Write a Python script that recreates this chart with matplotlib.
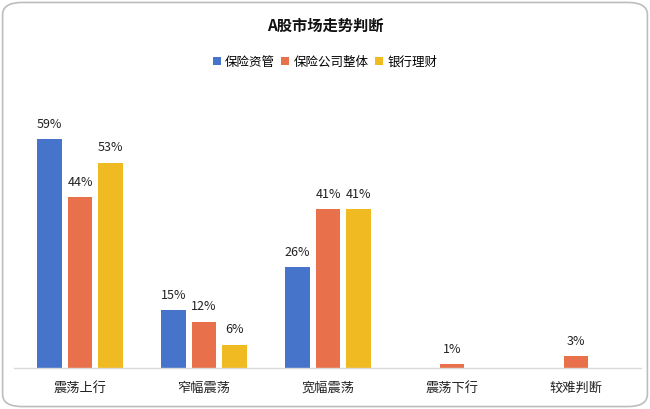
import numpy as np
import matplotlib
matplotlib.use("Agg")
import matplotlib.pyplot as plt
from matplotlib.patches import FancyBboxPatch

plt.rcParams['font.family'] = ['Noto Sans CJK SC', 'DejaVu Sans']

categories = ['震荡上行', '窄幅震荡', '宽幅震荡', '震荡下行', '较难判断']
series_names = ['保险资管', '保险公司整体', '银行理财']
insurance_am = [59, 15, 26, 0, 0]
insurance_all = [44, 12, 41, 1, 3]
bank_wm = [53, 6, 41, 0, 0]
colors = ['#4674CA', '#E8714B', '#F0BA22']

fig = plt.figure(figsize=(6.5, 4.09), dpi=100)

# rounded frame around the whole chart
frame = FancyBboxPatch((0.004, 0.006), 0.992, 0.988, boxstyle="round,pad=0,rounding_size=0.03",
                       transform=fig.transFigure, facecolor='white', edgecolor='#BDBDBD',
                       linewidth=1.2, zorder=-10)
fig.patches.append(frame)

ax = fig.add_axes([0.0277, 0.1002, 0.954, 0.616])
ax.set_facecolor('none')

x = np.arange(len(categories))
width = 0.2
step = 0.245
all_series = [insurance_am, insurance_all, bank_wm]
for i, (vals, name, col) in enumerate(zip(all_series, series_names, colors)):
    pos = x + (i - 1) * step
    bars = ax.bar(pos, vals, width, color=col, label=name, zorder=2)
    for b, v in zip(bars, vals):
        if v == 0:
            continue
        ax.annotate('{}%'.format(v), xy=(b.get_x() + b.get_width() / 2, v),
                    xytext=(0, 6), textcoords='offset points',
                    ha='center', va='bottom', fontsize=9, color='#222222')

ax.set_xlim(-0.5, 4.5)
ax.set_ylim(0, 65)
ax.set_yticks([])
ax.set_xticks(x)
ax.set_xticklabels(categories, fontsize=9.5, color='#222222')
ax.tick_params(axis='x', length=0, pad=10)
for s in ['top', 'right', 'left']:
    ax.spines[s].set_visible(False)
ax.spines['bottom'].set_color('#D9D9D9')
ax.spines['bottom'].set_linewidth(1)
ax.spines['bottom'].set_bounds(-0.53, 4.52)

fig.text(0.5, 0.938, 'A股市场走势判断', ha='center', va='center', fontsize=11, fontweight='bold',
         color='#111111')
fig.legend(loc='center', bbox_to_anchor=(0.5, 0.848), ncol=3, frameon=False, fontsize=9,
           handlelength=0.65, handleheight=0.65, handletextpad=0.35, columnspacing=0.5)

fig.savefig('out.png', dpi=100)
